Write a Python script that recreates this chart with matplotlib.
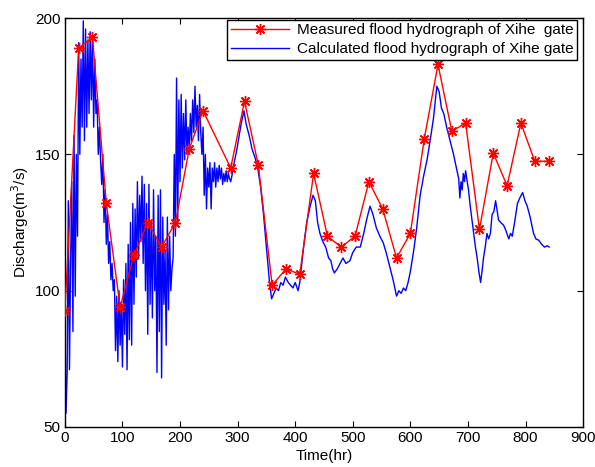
import matplotlib
matplotlib.use("Agg")
import matplotlib.pyplot as plt

plt.rcParams['font.family'] = ['Liberation Sans', 'DejaVu Sans']

# measured flood hydrograph (every 24 hr)
meas_t = [0, 24, 48, 72, 96, 120, 144, 168, 192, 216, 240, 288, 312, 336, 360,
          384, 408, 432, 456, 480, 504, 528, 552, 576, 600, 624, 648, 672, 696,
          720, 744, 768, 792, 816, 840]
meas_q = [92.5, 189, 193, 132, 94, 113, 125, 116, 125, 152, 166, 145, 169.5, 146,
          102, 108, 106, 143, 120, 116, 120, 140, 130, 112, 121, 155.5, 183, 158.5,
          161.5, 122.5, 150.5, 138.5, 161.5, 147.5, 147.5]

# calculated flood hydrograph, noisy first part (2 hr samples, 0-290 hr)
noisy_t = list(range(0, 291, 2))
noisy_q = [92, 55, 70, 133, 71, 110, 140, 85, 157, 98, 150,
           120, 191, 150, 185, 160, 199, 155, 196, 160, 192, 165, 195, 170, 193,
           160, 185, 165, 170, 150, 160, 148, 139,
           150, 125, 137, 117, 128, 110, 118, 104, 110, 100, 104,
           78, 98, 74, 100, 80, 95, 72, 104, 84, 110,
           71, 117, 82, 125, 80, 132, 95, 130, 105, 140, 112, 135, 118, 142,
           110, 139, 100, 132, 84, 139, 95, 125, 90, 137, 100, 120, 70, 135, 85,
           137, 68, 127, 95, 115, 80, 127, 93, 120, 100, 108, 112, 150, 120,
           178, 125, 170, 140,
           172, 145, 165, 148, 170, 150, 160, 152, 165, 155, 170, 158, 175, 160,
           168, 155, 172, 158,
           150, 160, 135, 150, 130, 145, 138, 147, 130, 145, 140, 147, 138, 145,
           140, 146, 141, 145, 139, 143, 140, 144, 140, 143, 141, 140, 142]

# calculated flood hydrograph, smoother second part
smooth_t = [294, 298, 302, 306, 311, 315, 320, 325, 330, 335, 340, 345, 350, 355,
            359, 363, 367, 371, 375, 379, 383, 388, 392, 396, 400, 405, 408,
            414, 420, 426, 431, 435, 439, 443, 448, 453, 458, 462, 465, 468, 473,
            478, 483, 488, 495, 500, 506, 513, 519, 524, 530, 535, 541, 547, 553,
            558, 564, 570, 576, 580, 584, 588, 592, 596, 600, 606, 611, 617, 623,
            629, 635, 640, 646, 650, 654, 658, 663, 669, 675, 681, 684, 686, 688,
            690, 692, 694, 696, 698, 701, 704, 707, 710, 713, 716, 719, 722, 725,
            727, 730, 733, 736, 739, 742, 745, 748, 751, 753, 757, 762, 766, 771,
            774, 777, 781, 786, 790, 795, 799, 803, 808, 814, 818, 823, 828, 833,
            838, 841]
smooth_q = [147, 151, 156, 161, 166, 161, 157, 152, 149, 145, 138, 128, 116, 104,
            97, 99, 101, 100, 103, 102, 105, 103, 102, 101, 103, 100, 103,
            115, 125, 131, 135, 133, 125, 121, 118, 116, 112, 111, 108, 106.5, 108,
            110, 112, 110, 111, 114, 116, 116, 121, 126, 131, 128, 123, 120, 117.5,
            114, 109, 104, 98, 100, 99, 101, 100, 103, 107, 115, 123, 135, 142,
            148, 156, 163, 175, 173, 167, 165, 160, 155, 150, 144, 141, 134, 140,
            137, 143, 140, 144, 141, 137, 131, 126, 121, 116, 112, 107, 103, 108,
            112, 116, 121, 119, 121, 128, 129, 133, 129, 126, 125, 124, 122, 119,
            121, 120, 125, 132, 134, 136, 133, 131, 127, 121, 119, 118.5, 117, 116,
            116.5, 116]

calc_t = noisy_t + smooth_t
calc_q = noisy_q + smooth_q

fig = plt.figure(figsize=(5.95, 4.67), dpi=100)
ax = fig.add_axes([0.109, 0.0857, 0.871, 0.8755])

ax.plot(meas_t, meas_q, color='red', lw=1, marker=(8, 2, 0), markersize=8,
        markeredgewidth=1, label='Measured flood hydrograph of Xihe  gate', zorder=3)
ax.plot(calc_t, calc_q, color='blue', lw=1,
        label='Calculated flood hydrograph of Xihe gate', zorder=2)

ax.set_xlim(0, 900)
ax.set_ylim(50, 200)
ax.set_xticks(range(0, 901, 100))
ax.set_yticks([50, 100, 150, 200])
ax.tick_params(direction='in', top=True, right=True, labelsize=11, length=4, pad=3)
for s in ax.spines.values():
    s.set_linewidth(1)

ax.set_xlabel('Time(hr)', fontsize=11, labelpad=3)
ax.set_ylabel('Discharge(m$^3$/s)', fontsize=11, labelpad=3)

leg = ax.legend(loc='upper right', fontsize=11, fancybox=False, framealpha=1,
                edgecolor='black', borderaxespad=0, handlelength=3.8,
                handletextpad=0.5, borderpad=0.25, labelspacing=0.3,
                bbox_to_anchor=(0.970, 0.958), bbox_transform=fig.transFigure)
leg.get_frame().set_linewidth(1)

fig.savefig('out.png', dpi=100)
plt.close(fig)
